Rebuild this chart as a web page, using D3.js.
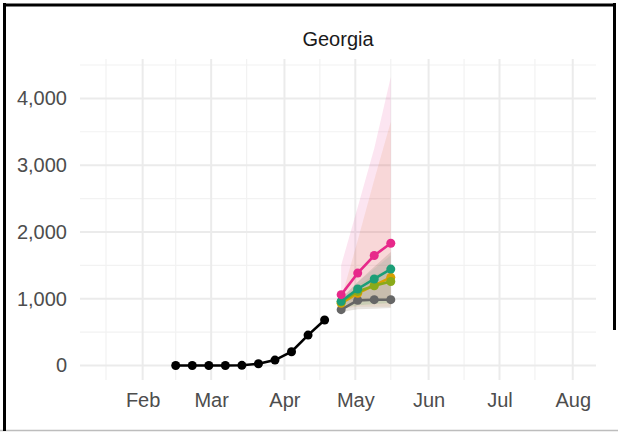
<!DOCTYPE html>
<html lang="en">
<head>
<meta charset="UTF-8">
<script src="https://d3js.org/d3.v7.min.js"></script>
<title>Georgia</title>
<style>
  body { margin: 0; background: #fff; }
  text { font-family: "Liberation Sans", Arial, sans-serif; }
</style>
</head>
<body>
<svg id="chart" width="618" height="432"></svg>
<script>
// observed weekly values
const obsDates = ["2020-02-15", "2020-02-22", "2020-02-29", "2020-03-07", "2020-03-14",
                  "2020-03-21", "2020-03-28", "2020-04-04", "2020-04-11", "2020-04-18"];
const obsValues = [0, 0, 0, 0, 2, 25, 80, 205, 455, 680];

// forecast weeks and series
const fcDates = ["2020-04-25", "2020-05-02", "2020-05-09", "2020-05-16"];
const pinkValues   = [1060, 1383, 1646, 1830];
const greenValues  = [960, 1145, 1295, 1443];
const orangeValues = [930, 1080, 1200, 1320];
const limeValues   = [950, 1109, 1194, 1258];
const greyValues   = [836, 975, 985, 985];

// prediction intervals
const pinkLow = [900, 950, 980, 1000],   pinkHigh = [1500, 2370, 3250, 4320];
const orangeLow = [850, 880, 880, 880],  orangeHigh = [1000, 1870, 2780, 3650];
const greyLow = [800, 840, 850, 860],    greyHigh = [1000, 1250, 1480, 1700];
const greenLow = [860, 900, 920, 940],   greenHigh = [1000, 1250, 1450, 1650];
const limeLow = [860, 900, 920, 930],    limeHigh = [980, 1200, 1350, 1450];

const yTicks = [0, 1000, 2000, 3000, 4000];
const yMinor = [500, 1500, 2500, 3500, 4500];
const monthTicks = ["2020-02-01", "2020-03-01", "2020-04-01", "2020-05-01",
                    "2020-06-01", "2020-07-01", "2020-08-01"];
const minorTicks = ["2020-01-16T12:00", "2020-02-15", "2020-03-16", "2020-04-16",
                    "2020-05-16", "2020-06-16", "2020-07-16"];

const parse = s => new Date(s.length > 10 ? s : s + "T00:00");

const svg = d3.select("#chart");

// frame round the picture
svg.append("line").attr("x1", 0).attr("x2", 618).attr("y1", 430.5).attr("y2", 430.5)
    .style("stroke", "#bdbdbd").style("stroke-width", 1.5);
svg.append("line").attr("x1", 4.5).attr("x2", 4.5).attr("y1", 3).attr("y2", 431)
    .style("stroke", "#000").style("stroke-width", 3);
svg.append("line").attr("x1", 3).attr("x2", 616).attr("y1", 5).attr("y2", 5)
    .style("stroke", "#000").style("stroke-width", 3);
svg.append("line").attr("x1", 614.5).attr("x2", 614.5).attr("y1", 3).attr("y2", 330)
    .style("stroke", "#000").style("stroke-width", 3);

const padLeft = 80, padRight = 596, padTop = 59, padBottom = 380;

const x = d3.scaleTime()
    .domain([new Date(2020, 0, 5, 12), new Date(2020, 7, 10, 20)])
    .range([padLeft, padRight]);

const y = d3.scaleLinear()
    .domain([-218, 4590])
    .range([padBottom, padTop]);

// grid lines
yMinor.forEach(v => {
    svg.append("line").attr("x1", padLeft).attr("x2", padRight)
        .attr("y1", y(v)).attr("y2", y(v))
        .style("stroke", "#f2f2f2").style("stroke-width", 1.2);
});
minorTicks.forEach(d => {
    svg.append("line").attr("x1", x(parse(d))).attr("x2", x(parse(d)))
        .attr("y1", padTop).attr("y2", padBottom)
        .style("stroke", "#f2f2f2").style("stroke-width", 1.2);
});
yTicks.forEach(v => {
    svg.append("line").attr("x1", padLeft).attr("x2", padRight)
        .attr("y1", y(v)).attr("y2", y(v))
        .style("stroke", "#ebebeb").style("stroke-width", 2);
});
monthTicks.forEach(d => {
    svg.append("line").attr("x1", x(parse(d))).attr("x2", x(parse(d)))
        .attr("y1", padTop).attr("y2", padBottom)
        .style("stroke", "#ebebeb").style("stroke-width", 2);
});

// axis labels
const yAxis = svg.append("g")
    .attr("transform", "translate(" + (padLeft - 13) + ",0)")
    .call(d3.axisLeft(y).tickValues(yTicks).tickSize(0).tickPadding(0).tickFormat(d3.format(",")));
yAxis.select(".domain").remove();
yAxis.selectAll("text").style("font-size", "20px").style("fill", "#4d4d4d")
    .style("font-family", "Liberation Sans, Arial, sans-serif");

const xAxis = svg.append("g")
    .attr("transform", "translate(0," + (padBottom + 13) + ")")
    .call(d3.axisBottom(x).tickValues(monthTicks.map(parse)).tickSize(0).tickPadding(0)
        .tickFormat(d3.timeFormat("%b")));
xAxis.select(".domain").remove();
xAxis.selectAll("text").style("font-size", "20px").style("fill", "#4d4d4d")
    .style("font-family", "Liberation Sans, Arial, sans-serif");

// title
svg.append("text")
    .attr("x", (padLeft + padRight) / 2)
    .attr("y", 46)
    .attr("text-anchor", "middle")
    .style("font-size", "20px")
    .style("fill", "#1a1a1a")
    .text("Georgia");

// ribbons
const ribbons = [
    { low: pinkLow, high: pinkHigh, color: "#e7298a", op: 0.12 },
    { low: orangeLow, high: orangeHigh, color: "#d95f02", op: 0.1 },
    { low: greyLow, high: greyHigh, color: "#7a6a55", op: 0.18 },
    { low: greenLow, high: greenHigh, color: "#1b9e77", op: 0.08 },
    { low: limeLow, high: limeHigh, color: "#66a61e", op: 0.08 }
];
const area = d3.area()
    .x(d => x(d.date))
    .y0(d => y(d.low))
    .y1(d => y(d.high));
ribbons.forEach(r => {
    const rows = fcDates.map((d, i) => ({ date: parse(d), low: r.low[i], high: r.high[i] }));
    svg.append("path").datum(rows)
        .attr("d", area)
        .style("fill", r.color)
        .style("fill-opacity", r.op);
});

// lines and points
const line = d3.line().x(d => x(d.date)).y(d => y(d.value));
function drawSeries(dates, values, color) {
    const rows = dates.map((d, i) => ({ date: parse(d), value: values[i] }));
    svg.append("path").datum(rows)
        .attr("d", line)
        .style("fill", "none")
        .style("stroke", color)
        .style("stroke-width", 2.6);
    svg.selectAll(null).data(rows).enter().append("circle")
        .attr("cx", d => x(d.date))
        .attr("cy", d => y(d.value))
        .attr("r", 4.5)
        .style("fill", color);
}

drawSeries(obsDates, obsValues, "#000000");
drawSeries(fcDates, greyValues, "#666666");
drawSeries(fcDates, orangeValues, "#d9a002");
drawSeries(fcDates, limeValues, "#8aaa1a");
drawSeries(fcDates, greenValues, "#1b9e77");
drawSeries(fcDates, pinkValues, "#e7298a");
</script>
</body>
</html>
